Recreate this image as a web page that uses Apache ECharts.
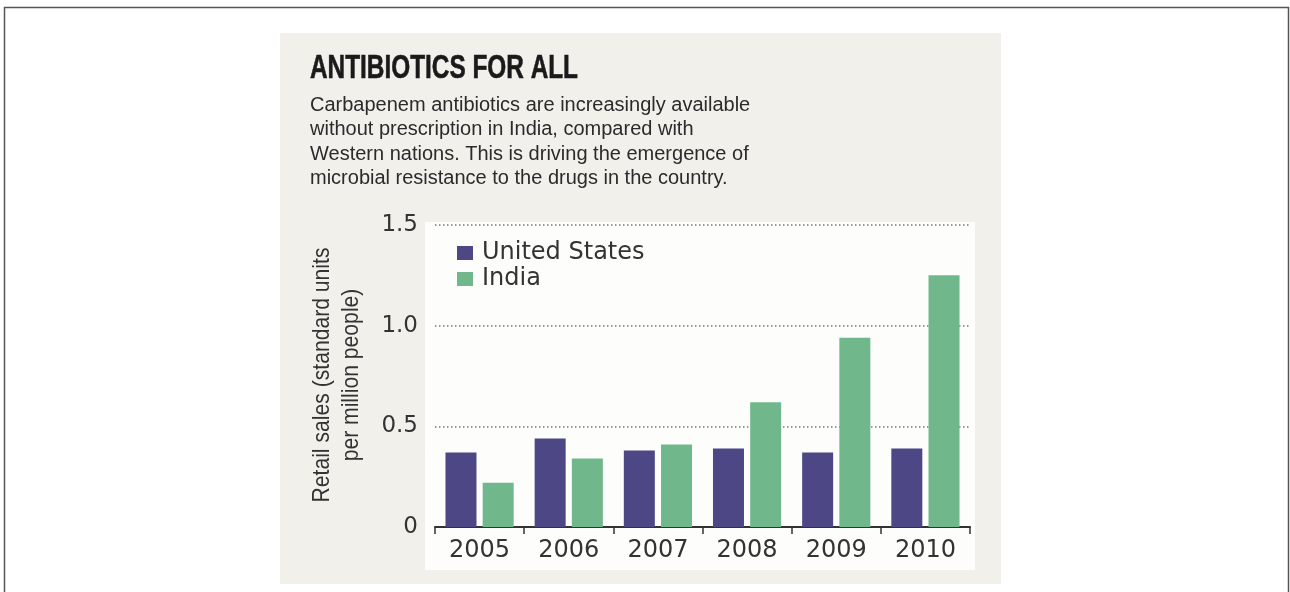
<!DOCTYPE html>
<html>
<head>
<meta charset="utf-8">
<script src="https://cdn.jsdelivr.net/npm/echarts@6/dist/echarts.min.js"></script>
<style>
html,body{margin:0;padding:0;background:#fff;}
#chart{width:1290px;height:592px;}
</style>
</head>
<body>
<div id="chart"></div>
<script>
const categories = ['2005', '2006', '2007', '2008', '2009', '2010'];
const usValues = [0.37, 0.44, 0.38, 0.39, 0.37, 0.39];
const indiaValues = [0.22, 0.34, 0.41, 0.62, 0.94, 1.25];
const seriesNames = ['United States', 'India'];
const yTicks = [0, 0.5, 1.0, 1.5];
const titleText = 'ANTIBIOTICS FOR ALL';
const subtitleLines = [
  'Carbapenem antibiotics are increasingly available',
  'without prescription in India, compared with',
  'Western nations. This is driving the emergence of',
  'microbial resistance to the drugs in the country.'
];
const yAxisTitleLines = ['Retail sales (standard units', 'per million people)'];

function measure(text, font) {
  const ctx = document.createElement('canvas').getContext('2d');
  ctx.font = font;
  return ctx.measureText(text).width;
}

const titleFont = 'bold 34px "Liberation Sans"';
const titleScale = 268 / measure(titleText, titleFont);
const yNameFont = '24px "Liberation Sans"';
const yNameScale = 255 / measure(yAxisTitleLines[0], yNameFont);

const chart = echarts.init(document.getElementById('chart'), null, {renderer: 'canvas'});

const option = {
  backgroundColor: '#ffffff',
  animation: false,
  graphic: [
    {type: 'rect', z: -10, shape: {x: 4.5, y: 7.5, width: 1284, height: 620},
     style: {fill: '#ffffff', stroke: '#555555', lineWidth: 1.5}},
    {type: 'rect', z: -9, shape: {x: 280, y: 33, width: 721, height: 551},
     style: {fill: '#f2f0eb'}},
    {type: 'rect', z: -8, shape: {x: 425, y: 222, width: 550, height: 348},
     style: {fill: '#fdfdfc'}},
    {type: 'text', x: 310, y: 69, scaleX: titleScale, z: 10,
     style: {text: titleText, x: 0, y: 0, align: 'left', verticalAlign: 'middle',
             font: titleFont, fill: '#1a1a1a', stroke: '#1a1a1a', lineWidth: 0.6}},
    {type: 'text', left: 310, top: 93, z: 10,
     style: {text: subtitleLines.join('\n'), font: '20px "Liberation Sans"', lineHeight: 24.5, fill: '#2b2b2b'}},
    {type: 'text', x: 337, y: 375, rotation: Math.PI / 2, scaleX: yNameScale, z: 10,
     style: {text: yAxisTitleLines.join('\n'), x: 0, y: 0, align: 'center', verticalAlign: 'middle',
             font: yNameFont, lineHeight: 29, fill: '#333'}}
  ],
  legend: {
    orient: 'vertical',
    left: 452,
    top: 236,
    itemWidth: 16,
    itemHeight: 14,
    itemGap: 2,
    icon: 'rect',
    data: seriesNames,
    textStyle: {fontFamily: 'DejaVu Sans', fontSize: 24, color: '#333', lineHeight: 24, padding: [0, 0, 0, 4]}
  },
  grid: {left: 435, right: 320, top: 225, bottom: 65, containLabel: false},
  xAxis: {
    type: 'category',
    data: categories,
    boundaryGap: true,
    axisLine: {show: true, lineStyle: {color: '#333', width: 2}},
    axisTick: {show: true, length: 7, lineStyle: {color: '#333', width: 1.5}},
    axisLabel: {fontFamily: 'DejaVu Sans', fontSize: 24, color: '#333', margin: 12}
  },
  yAxis: {
    type: 'value',
    min: yTicks[0],
    max: yTicks[yTicks.length - 1],
    interval: yTicks[1] - yTicks[0],
    axisLine: {show: false},
    axisTick: {show: false},
    axisLabel: {
      fontFamily: 'DejaVu Sans', fontSize: 23, color: '#333', margin: 17,
      formatter: function (v) { return v === 0 ? '0' : v.toFixed(1); }
    },
    splitLine: {show: true, lineStyle: {color: '#777', width: 1.5, type: [1.5, 2.5]}}
  },
  series: [
    {name: seriesNames[0], type: 'bar', data: usValues, barWidth: 31, barGap: '20%',
     itemStyle: {color: '#4d4786'}},
    {name: seriesNames[1], type: 'bar', data: indiaValues, barWidth: 31, barGap: '20%',
     itemStyle: {color: '#70b88b'}}
  ]
};
chart.setOption(option);
</script>
</body>
</html>
